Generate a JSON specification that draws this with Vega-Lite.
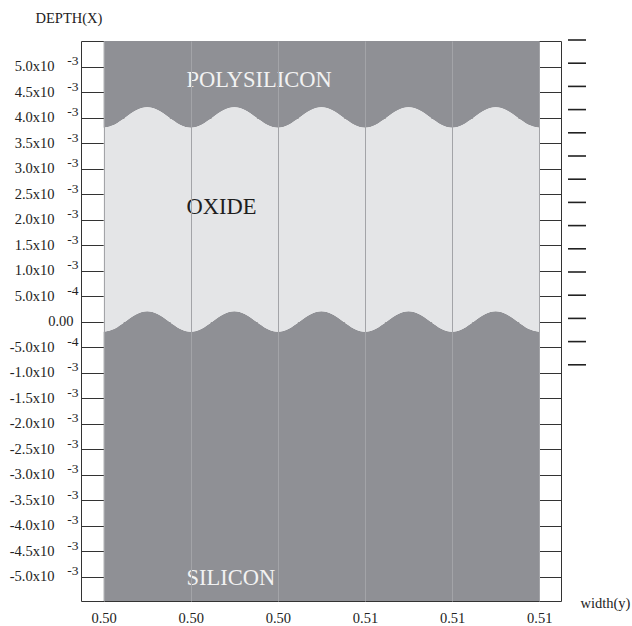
{
  "$schema": "https://vega.github.io/schema/vega-lite/v6.json",
  "width": 480,
  "height": 560,
  "autosize": {"type": "none"},
  "padding": {"left": 81, "top": 41, "right": 71, "bottom": 25},
  "background": "white",
  "config": {
    "view": {"stroke": "#333333", "strokeWidth": 1},
    "font": "Liberation Serif"
  },
  "resolve": {"axis": {"y": "independent"}},
  "data": {"values": [
    {"x": 0.5, "top": 0.0038, "bottom": -0.0002},
    {"x": 0.50025, "top": 0.003859, "bottom": -0.000141},
    {"x": 0.5005, "top": 0.004, "bottom": 0},
    {"x": 0.50075, "top": 0.004141, "bottom": 0.000141},
    {"x": 0.501, "top": 0.0042, "bottom": 0.0002},
    {"x": 0.50125, "top": 0.004141, "bottom": 0.000141},
    {"x": 0.5015, "top": 0.004, "bottom": 0},
    {"x": 0.50175, "top": 0.003859, "bottom": -0.000141},
    {"x": 0.502, "top": 0.0038, "bottom": -0.0002},
    {"x": 0.50225, "top": 0.003859, "bottom": -0.000141},
    {"x": 0.5025, "top": 0.004, "bottom": 0},
    {"x": 0.50275, "top": 0.004141, "bottom": 0.000141},
    {"x": 0.503, "top": 0.0042, "bottom": 0.0002},
    {"x": 0.50325, "top": 0.004141, "bottom": 0.000141},
    {"x": 0.5035, "top": 0.004, "bottom": 0},
    {"x": 0.50375, "top": 0.003859, "bottom": -0.000141},
    {"x": 0.504, "top": 0.0038, "bottom": -0.0002},
    {"x": 0.50425, "top": 0.003859, "bottom": -0.000141},
    {"x": 0.5045, "top": 0.004, "bottom": 0},
    {"x": 0.50475, "top": 0.004141, "bottom": 0.000141},
    {"x": 0.505, "top": 0.0042, "bottom": 0.0002},
    {"x": 0.50525, "top": 0.004141, "bottom": 0.000141},
    {"x": 0.5055, "top": 0.004, "bottom": 0},
    {"x": 0.50575, "top": 0.003859, "bottom": -0.000141},
    {"x": 0.506, "top": 0.0038, "bottom": -0.0002},
    {"x": 0.50625, "top": 0.003859, "bottom": -0.000141},
    {"x": 0.5065, "top": 0.004, "bottom": 0},
    {"x": 0.50675, "top": 0.004141, "bottom": 0.000141},
    {"x": 0.507, "top": 0.0042, "bottom": 0.0002},
    {"x": 0.50725, "top": 0.004141, "bottom": 0.000141},
    {"x": 0.5075, "top": 0.004, "bottom": 0},
    {"x": 0.50775, "top": 0.003859, "bottom": -0.000141},
    {"x": 0.508, "top": 0.0038, "bottom": -0.0002},
    {"x": 0.50825, "top": 0.003859, "bottom": -0.000141},
    {"x": 0.5085, "top": 0.004, "bottom": 0},
    {"x": 0.50875, "top": 0.004141, "bottom": 0.000141},
    {"x": 0.509, "top": 0.0042, "bottom": 0.0002},
    {"x": 0.50925, "top": 0.004141, "bottom": 0.000141},
    {"x": 0.5095, "top": 0.004, "bottom": 0},
    {"x": 0.50975, "top": 0.003859, "bottom": -0.000141},
    {"x": 0.51, "top": 0.0038, "bottom": -0.0002}
  ]},
  "layer": [
    {
      "mark": {"type": "area", "color": "#8f9095", "interpolate": "monotone"},
      "encoding": {
        "x": {
          "field": "x", "type": "quantitative",
          "scale": {"domain": [0.49948, 0.5105], "nice": false, "zero": false},
          "axis": {
            "values": [0.5, 0.502, 0.504, 0.506, 0.508, 0.51],
            "format": ".2f",
            "domain": false, "ticks": false,
            "grid": true, "gridColor": "#a3a4a8", "gridWidth": 1,
            "zindex": 1,
            "labelFont": "Liberation Serif", "labelFontSize": 14.5, "labelColor": "#222222",
            "labelPadding": 10,
            "title": "width(y)",
            "titleFont": "Liberation Serif", "titleFontSize": 14.5, "titleFontWeight": "normal", "titleColor": "#222222",
            "titleAngle": 0, "titleAlign": "left", "titleBaseline": "middle",
            "titleX": 499, "titleY": 2
          }
        },
        "y": {
          "field": "top", "type": "quantitative",
          "scale": {"domain": [-0.00548, 0.0055], "nice": false, "zero": false},
          "axis": {
            "orient": "left",
            "values": [-0.005, -0.0045, -0.004, -0.0035, -0.003, -0.0025, -0.002, -0.0015, -0.001, -0.0005, 0, 0.0005, 0.001, 0.0015, 0.002, 0.0025, 0.003, 0.0035, 0.004, 0.0045, 0.005],
            "labelExpr": "abs(datum.value) < 1e-9 ? '0.00' : (datum.value < 0 ? '-' : '') + format(abs(datum.value) < 0.00099 ? abs(datum.value) * 10000 : abs(datum.value) * 1000, '.1f') + 'x10'",
            "domain": false, "ticks": false,
            "grid": true, "gridColor": "#333333", "gridWidth": 1,
            "zindex": 0,
            "labelFont": "Liberation Serif", "labelFontSize": 14.5, "labelColor": "#222222",
            "labelPadding": {"condition": {"test": "abs(datum.value) < 1e-9", "value": 8}, "value": 27},
            "title": "DEPTH(X)",
            "titleFont": "Liberation Serif", "titleFontSize": 14.5, "titleFontWeight": "normal", "titleColor": "#222222",
            "titleAngle": 0, "titleAlign": "left", "titleBaseline": "middle",
            "titleX": -46, "titleY": -23
          }
        },
        "y2": {"datum": 0.0055}
      }
    },
    {
      "mark": {"type": "area", "color": "#8f9095", "interpolate": "monotone"},
      "encoding": {
        "x": {"field": "x", "type": "quantitative"},
        "y": {"field": "bottom", "type": "quantitative", "axis": null},
        "y2": {"datum": -0.00548}
      }
    },
    {
      "mark": {"type": "area", "color": "#e4e5e7", "interpolate": "monotone"},
      "encoding": {
        "x": {"field": "x", "type": "quantitative"},
        "y": {"field": "bottom", "type": "quantitative", "axis": null},
        "y2": {"field": "top"}
      }
    },
    {
      "data": {"values": [
        {"x": 0.5019, "y": 0.00474, "label": "POLYSILICON"},
        {"x": 0.5019, "y": 0.00225, "label": "OXIDE"},
        {"x": 0.5019, "y": -0.00503, "label": "SILICON"}
      ]},
      "mark": {"type": "text", "align": "left", "baseline": "middle", "font": "Liberation Serif", "fontSize": 22.5},
      "encoding": {
        "x": {"field": "x", "type": "quantitative"},
        "y": {
          "field": "y", "type": "quantitative",
          "axis": {
            "orient": "left",
            "values": [-0.005, -0.0045, -0.004, -0.0035, -0.003, -0.0025, -0.002, -0.0015, -0.001, -0.0005, 0, 0.0005, 0.001, 0.0015, 0.002, 0.0025, 0.003, 0.0035, 0.004, 0.0045, 0.005],
            "labelExpr": "abs(datum.value) < 1e-9 ? '' : (abs(datum.value) < 0.00099 ? '-4' : '-3')",
            "domain": false, "ticks": false, "grid": false,
            "labelFont": "Liberation Serif", "labelFontSize": 13.5, "labelColor": "#222222",
            "labelPadding": 3, "labelOffset": -6,
            "title": null
          }
        },
        "text": {"field": "label"},
        "color": {"condition": {"test": "datum.label === 'OXIDE'", "value": "#1e1e1e"}, "value": "#f2f2f2"}
      }
    },
    {
      "data": {"values": [
        {"lvl": "a"}, {"lvl": "b"}, {"lvl": "c"}, {"lvl": "d"}, {"lvl": "e"},
        {"lvl": "f"}, {"lvl": "g"}, {"lvl": "h"}, {"lvl": "i"}, {"lvl": "j"},
        {"lvl": "k"}, {"lvl": "l"}, {"lvl": "m"}, {"lvl": "n"}, {"lvl": "o"}
      ]},
      "mark": {"type": "point", "opacity": 0},
      "encoding": {
        "color": {
          "field": "lvl", "type": "nominal",
          "scale": {"range": ["#222222"]},
          "legend": {
            "orient": "none", "legendX": 486, "legendY": -11,
            "title": null, "direction": "vertical",
            "symbolType": "stroke", "symbolSize": 324, "symbolStrokeWidth": 1.6,
            "symbolOpacity": 1, "symbolLimit": 30,
            "labelExpr": "''", "labelFontSize": 6,
            "rowPadding": 9.2, "padding": 0
          }
        }
      }
    }
  ]
}
